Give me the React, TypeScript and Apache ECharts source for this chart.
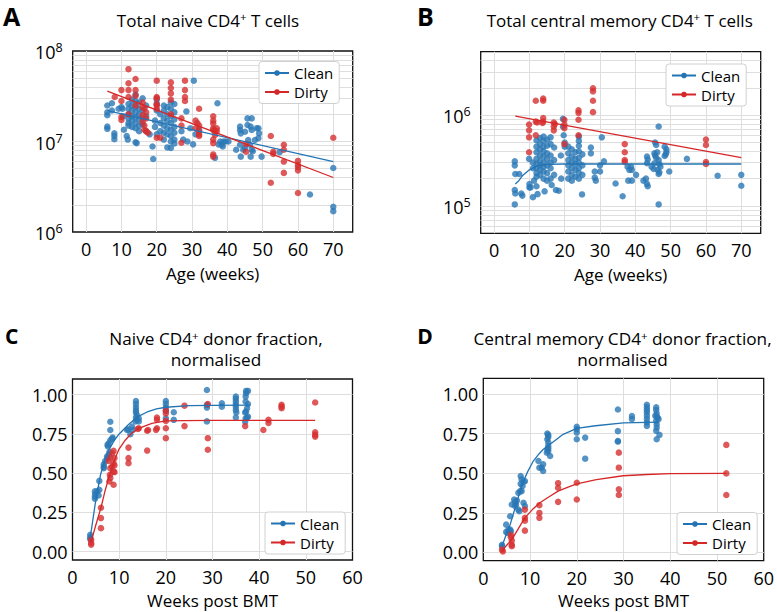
import React, { useEffect, useRef } from 'react';
import * as echarts from 'echarts';

const FONT = '"Open Sans", "Noto Sans", sans-serif';
const BLUE_PT = '#2a78b5';
const RED_PT = '#d62f31';
const BLUE_LINE = '#2274b4';
const RED_LINE = '#d62728';
const GRID = '#dedede';

// ---------- tick values ----------
const ageTicks = [0, 10, 20, 30, 40, 50, 60, 70];
const bmtLabels = [0, 10, 20, 30, 40, 50, 60];
const bmtSplits = [10, 20, 30, 40, 50];
const fracTicks = [0, 0.25, 0.5, 0.75, 1.0];
const naiveDecadeLabels = [1e6, 1e7, 1e8];
const naiveDecadeSplits = [1e7];
const cmDecades = [1e5, 1e6];
const naiveMinor = [2e6, 3e6, 4e6, 5e6, 6e6, 7e6, 8e6, 9e6, 2e7, 3e7, 4e7, 5e7, 6e7, 7e7, 8e7, 9e7];
const cmMinor = [6e4, 7e4, 8e4, 9e4, 2e5, 3e5, 4e5, 5e5, 6e5, 7e5, 8e5, 9e5, 2e6, 3e6, 4e6];

// ---------- Panel A: total naive CD4+ T cells ----------
const naiveCountClean = [
  [6, 2.5e7], [6, 2.1e7], [6, 1.95e7], [6, 1.46e7], [6, 1.38e7],
  [7.3, 2.65e7], [7.3, 2.2e7], [8, 1.23e7], [8, 1.15e7], [8, 1.06e7], [9.2, 2.3e7],
  [10, 2.4e7], [10.3, 2.3e7], [10.5, 1.9e7], [10.7, 1.35e7], [11.5, 1.15e7], [11.8, 1.05e7],
  [12, 2.6e7], [12, 2.3e7], [12, 2.0e7], [12, 1.8e7], [12, 1.6e7], [12, 1.5e7],
  [13, 2.9e7], [13, 2.5e7], [13, 2.2e7], [13, 1.9e7], [13, 1.7e7], [13, 1.45e7],
  [14, 3.3e7], [14, 2.8e7], [14, 2.4e7], [14, 2.1e7], [14, 1.85e7], [14, 1.6e7], [14, 1.4e7], [14, 9.8e6], [14.3, 9.6e6],
  [15, 2.7e7], [15, 2.3e7], [15, 2.0e7], [15, 1.75e7], [15, 1.5e7], [15, 1.3e7],
  [16, 3.0e7], [16, 2.2e7], [16, 1.8e7], [16, 1.55e7], [17, 2.5e7], [17, 1.9e7], [17, 1.3e7],
  [18, 1.2e7], [18.8, 8.8e6], [19, 6.4e6], [19.5, 1.7e7], [19.5, 1.45e7],
  [20, 2.9e7], [20, 2.6e7], [20, 2.2e7], [20, 1.2e7], [21, 2.0e7], [21, 1.6e7], [21, 1.3e7],
  [22, 2.5e7], [22, 2.2e7], [22, 1.8e7], [22, 1.5e7], [22, 1.25e7], [22, 1.05e7],
  [23, 2.4e7], [23, 2.0e7], [23, 1.7e7], [23, 1.4e7], [23, 1.2e7], [23, 8.6e6],
  [24, 2.7e7], [24, 2.3e7], [24, 1.9e7], [24, 1.6e7], [24, 1.35e7], [24, 1.15e7], [24, 1.0e7], [24, 8.5e6],
  [25, 2.6e7], [25, 2.1e7], [25, 1.75e7], [25, 1.45e7], [25, 1.25e7], [25, 1.05e7], [25, 9.5e6],
  [27, 1.3e7], [27.5, 1.05e7], [28.4, 2.15e7], [28.7, 1.0e7], [29.5, 1.4e7], [30.3, 9.3e6], [30.5, 4.7e7],
  [31, 1.2e7], [32, 1.35e7], [37.2, 2.65e7], [36.5, 6.6e6],
  [37.5, 9.3e6], [38, 1.0e7], [38.4, 9.2e6], [38.9, 1.0e7], [39.5, 1.0e7], [38.7, 8.8e6], [40.3, 1.0e7],
  [42.5, 8.1e6], [43.6, 9.2e6], [43.8, 6.8e6], [44.5, 8.1e6], [45, 8.5e6],
  [43.6, 1.46e7], [43.6, 1.34e7], [43.8, 1.23e7], [45, 1.28e7], [45.7, 1.8e7], [46.9, 1.8e7], [45.7, 1.52e7],
  [46.6, 1.46e7], [46.9, 1.34e7], [48.3, 1.4e7], [48.8, 1.4e7], [49, 1.23e7], [48.8, 1.09e7], [47.8, 1.04e7],
  [45.9, 1.04e7], [46.4, 9.2e6], [46.9, 8.1e6], [46.6, 6.8e6], [47.2, 7.8e6], [49.7, 6.8e6],
  [54.8, 7.6e6], [63.4, 2.6e6], [70, 5.1e6], [70, 1.9e6], [70, 1.7e6],
];
const naiveCountDirty = [
  [8.1, 3.1e7], [10, 3.7e7], [10, 2.8e7], [10, 1.87e7], [10, 1.73e7],
  [12, 6.3e7], [12, 4.4e7], [12, 3.7e7], [12, 3.1e7], [12, 2.0e7],
  [14, 4.9e7], [14, 3.7e7], [14, 3.2e7], [14, 2.5e7],
  [16, 2.7e7], [16, 2.4e7], [16.5, 2.3e7], [17, 2.1e7], [16, 1.95e7], [17, 1.8e7], [16, 1.65e7], [16.5, 1.5e7], [16.5, 1.35e7], [17, 1.3e7], [17.5, 1.25e7],
  [20, 4.7e7], [20, 3.1e7], [20, 3.0e7], [20, 2.6e7], [20, 2.5e7], [20, 2.3e7], [20, 1.1e7], [21, 1.1e7],
  [24, 4.5e7], [24, 3.9e7], [24, 3.4e7], [24, 2.9e7], [24, 2.0e7],
  [27, 9.7e6], [27, 1.5e7], [27, 1.8e7], [28, 4.7e7], [28, 3.7e7], [28, 3.1e7], [28, 2.8e7],
  [31, 1.7e7], [31.5, 1.6e7], [31, 1.4e7], [32, 1.5e7], [32, 1.3e7], [32, 1.2e7], [32, 1.15e7], [32, 2.3e7],
  [36, 1.9e7], [36, 1.7e7], [36, 1.58e7], [36, 1.4e7], [36, 1.34e7], [36.5, 1.3e7], [36.5, 1.18e7], [36, 1.05e7], [36, 9.6e6], [36, 7.2e6], [36, 6.8e6],
  [37, 1.4e7], [37, 1.3e7], [45.3, 9.4e6], [45.3, 7.7e6],
  [52.3, 1.15e7], [53, 7.7e6], [53, 7.3e6], [52.3, 3.5e6],
  [56, 9.2e6], [56, 8.1e6], [56, 6.0e6], [56, 4.5e6],
  [60, 6.1e6], [60, 5.5e6], [60, 5.2e6], [60, 4.8e6], [60, 2.7e6], [70, 1.1e7],
];
const naiveCountFitClean = [[6, 2.2e7], [70, 6.0e6]];
const naiveCountFitDirty = [[6, 3.6e7], [70, 4.0e6]];

// ---------- Panel B: total central memory CD4+ T cells ----------
const cmCountClean = [
  [5.85, 3.1e5], [5.85, 2.8e5], [6, 2.25e5], [5.85, 1.5e5], [6, 1.37e5], [5.85, 1.04e5],
  [7.1, 2.25e5], [7.7, 1.37e5], [8, 1.3e5], [9.9, 3.3e5], [10, 1.74e5], [10, 1.6e5], [10.3, 1.6e5], [11, 1.25e5],
  [11, 3.0e5], [11, 2.6e5], [11.3, 1.9e5],
  [12, 5.3e5], [12, 4.5e5], [12, 3.9e5], [12, 3.3e5], [12, 2.9e5], [12, 2.6e5], [12, 2.3e5], [12, 2.1e5], [12, 1.65e5], [12.3, 1.35e5],
  [13, 5.6e5], [13, 4.8e5], [13, 4.2e5], [13, 3.6e5], [13, 3.1e5], [13, 2.8e5], [13, 2.5e5], [13, 2.2e5],
  [14, 5.8e5], [14, 5.2e5], [14, 4.5e5], [14, 4.0e5], [14, 3.5e5], [14, 3.0e5], [14, 2.7e5], [14, 2.4e5], [14, 2.0e5], [14.3, 1.45e5],
  [15, 5.4e5], [15, 4.6e5], [15, 3.8e5], [15, 3.3e5], [15, 2.8e5], [15, 2.3e5], [15, 1.9e5],
  [16, 5.7e5], [16, 4.8e5], [16, 3.6e5], [16, 3.0e5], [16, 2.6e5], [16, 2.0e5], [16.3, 1.7e5],
  [17, 4.4e5], [17, 3.2e5], [17, 2.2e5], [17.5, 1.5e5],
  [18.3, 1.47e5], [18.9, 3.6e5], [19, 2.0e5], [19.5, 9.1e5], [19.5, 7.5e5], [19.7, 6.0e5], [20, 5.0e5], [20, 4.5e5],
  [21, 4.5e5], [21, 3.8e5], [21, 3.2e5], [21, 2.8e5], [21, 2.4e5], [21, 2.0e5],
  [22, 4.2e5], [22, 3.5e5], [22, 3.0e5], [22, 2.6e5], [22, 2.2e5], [22, 1.9e5],
  [23, 3.9e5], [23, 3.3e5], [23, 2.9e5], [23, 2.5e5], [23, 2.1e5],
  [24, 5.8e5], [24, 5.2e5], [24, 4.6e5], [24, 4.0e5], [24, 3.4e5], [24, 3.0e5], [24, 2.6e5], [24, 2.3e5], [24, 2.0e5],
  [25, 3.7e5], [25, 2.8e5], [25, 2.2e5], [24.9, 1.34e5],
  [27.4, 4.4e5], [27.4, 3.8e5], [28.5, 2.4e5], [28.5, 2.05e5], [28.8, 1.9e5], [30.5, 5.7e5], [31.1, 3.1e5], [30, 2.8e5], [30, 2.4e5], [34.4, 1.77e5],
  [36.4, 1.28e5], [37.8, 2.7e5], [38.3, 2.5e5], [38.8, 2.7e5], [39, 2.5e5], [38, 1.9e5], [39, 1.9e5], [40.2, 2.2e5],
  [42.3, 1.9e5], [43, 2.0e5], [43.3, 1.75e5], [43.5, 1.65e5],
  [43.3, 3.5e5], [43.5, 3.25e5], [43.3, 2.95e5], [44.6, 2.7e5], [45.4, 2.95e5], [45.4, 3.8e5], [45.6, 3.6e5], [45.9, 3.4e5],
  [46.2, 3.9e5], [46.6, 3.2e5], [46.8, 2.9e5], [47.1, 2.7e5], [46.3, 2.5e5], [46.8, 2.35e5], [46.6, 2.25e5], [45.2, 2.55e5],
  [46.6, 7.5e5], [45.6, 5.0e5], [45.9, 4.7e5],
  [48.3, 4.5e5], [48.8, 4.2e5], [48.8, 3.9e5], [48.3, 3.55e5], [48.6, 3.7e5],
  [49.6, 2.4e5], [46.6, 1.04e5], [54.6, 3.3e5], [63.3, 2.15e5], [70, 2.2e5], [70, 1.67e5],
];
const cmCountDirty = [
  [9.9, 7.9e5], [9.9, 6.8e5], [9.9, 5.7e5], [9.9, 3.9e5],
  [11.8, 1.44e6], [13.9, 1.52e6], [13.9, 1.44e6], [11.8, 8.5e5], [12.2, 8.3e5], [11.8, 6.0e5],
  [13.9, 9.3e5], [13.9, 8.5e5], [13.7, 8.2e5],
  [16.9, 8.3e5], [16.9, 7.5e5], [16.9, 6.8e5], [17.2, 8.0e5],
  [19.9, 8.9e5], [19.9, 7.9e5], [19.9, 7.2e5], [19.9, 4.8e5],
  [23.9, 1.13e6], [23.9, 1.06e6], [23.9, 8.9e5], [23.9, 6.0e5],
  [28, 1.98e6], [28, 1.83e6], [28, 1.44e6], [28, 1.08e6],
  [37, 4.8e5], [37, 3.9e5], [37, 3.2e5], [37, 3.05e5],
  [60, 5.4e5], [60, 4.7e5], [60, 3.05e5], [60, 2.9e5],
];
const cmCountFitClean = [[6, 1.75e5], [7, 1.9e5], [8, 2.15e5], [10, 2.5e5], [12, 2.75e5], [15, 2.87e5], [20, 2.9e5], [70, 2.9e5]];
const cmCountFitDirty = [[6, 9.75e5], [70, 3.4e5]];

// ---------- Panel C: naive donor fraction ----------
const naiveFracClean = [
  [3.8, 0.108], [3.8, 0.091], [3.8, 0.08],
  [4.8, 0.384], [4.9, 0.367], [4.8, 0.352], [5.3, 0.384], [5.6, 0.358], [4.8, 0.337], [5.75, 0.394], [5.75, 0.451],
  [6.7, 0.542], [6.7, 0.557], [6.7, 0.532], [7.0, 0.578], [7.5, 0.595],
  [7.5, 0.68], [7.6, 0.67], [7.75, 0.69], [8.1, 0.71], [8.5, 0.72], [8.6, 0.727], [8.1, 0.828], [8.1, 0.775],
  [7.4, 0.606], [7.75, 0.617], [7.9, 0.634],
  [11.7, 0.775], [11.9, 0.78], [12.75, 0.797], [12.9, 0.775], [12.4, 0.748],
  [13.6, 0.96], [13.6, 0.94], [13.6, 0.918], [13.6, 0.9], [13.6, 0.886], [13.8, 0.87], [13.6, 0.854], [13.8, 0.84], [14.2, 0.83], [14.2, 0.85], [13.5, 0.83],
  [20, 0.96], [20, 0.94], [20, 0.918], [20, 0.896], [20, 0.85], [21.7, 0.888], [21.7, 0.84],
  [28.8, 1.03], [28.8, 0.918], [28.8, 0.83], [28.8, 0.935], [32, 0.945], [32, 0.924],
  [35, 0.988], [35, 0.973], [35, 0.956], [35, 0.939], [35, 0.924], [35, 0.903], [35, 0.854], [35.1, 0.887],
  [37, 0.887], [37, 0.828], [37.2, 1.024], [37.6, 1.024], [37.2, 1.01], [37.1, 0.988], [37.6, 0.94], [37.1, 0.956],
  [37.4, 0.914], [37.2, 0.893], [37.6, 0.86], [37.4, 0.854], [37.1, 0.85],
];
const naiveFracDirty = [
  [4, 0.076], [4, 0.055], [4, 0.045], [6.1, 0.28], [6.1, 0.214], [6.1, 0.15],
  [8, 0.49], [8.1, 0.47], [8.1, 0.532], [8.5, 0.543], [8.8, 0.564], [7.9, 0.447], [8.8, 0.426],
  [7.75, 0.578], [8.1, 0.6], [8.5, 0.627], [8.8, 0.642], [9, 0.596], [9, 0.55], [8.8, 0.51], [9, 0.507],
  [12, 0.663], [12, 0.596], [12, 0.564], [14, 0.782], [14.2, 0.786], [16, 0.77], [16.2, 0.775], [16, 0.644],
  [18.1, 0.854], [18.1, 0.84], [18.1, 0.786], [17.9, 0.776],
  [20, 0.9], [20, 0.88], [20, 0.833], [20, 0.723], [20, 0.786], [24, 0.93], [24, 0.8],
  [29, 0.94], [29, 0.723], [29, 0.649], [37, 0.8], [40.9, 0.775], [42, 0.84], [42, 0.82],
  [44.8, 0.935], [44.8, 0.924], [44.8, 0.914], [52, 0.95], [52, 0.761], [52, 0.744], [52, 0.733],
];
const naiveFracFitClean = [
  [3.8, 0.09], [4.2, 0.17], [5, 0.33], [6, 0.49], [7, 0.59], [8, 0.66], [9, 0.71], [10, 0.75],
  [12, 0.81], [14, 0.86], [16, 0.89], [18, 0.91], [20, 0.92], [25, 0.93], [30, 0.932], [38, 0.933],
];
const naiveFracFitDirty = [
  [4, 0.066], [5, 0.17], [6.1, 0.28], [7, 0.39], [7.75, 0.47], [8.8, 0.57], [9.9, 0.65], [11.3, 0.71],
  [12.5, 0.75], [14.2, 0.786], [17, 0.818], [20, 0.833], [24, 0.835], [30, 0.836], [52, 0.836],
];

// ---------- Panel D: central memory donor fraction ----------
const cmFracClean = [
  [4, 0.048], [4, 0.038], [4.9, 0.175], [4.9, 0.129], [5.2, 0.122], [5.4, 0.144],
  [5.75, 0.144], [5.9, 0.133], [5.75, 0.228], [6.1, 0.302], [6.6, 0.334],
  [6.8, 0.319], [6.8, 0.292], [7.2, 0.327], [7, 0.302], [7.5, 0.27], [7.7, 0.26], [7.5, 0.376], [7.9, 0.387],
  [8, 0.482], [8.2, 0.461], [8, 0.433], [8.4, 0.419], [8.6, 0.446], [8.9, 0.45], [8.2, 0.387], [8.6, 0.313], [8.9, 0.292],
  [11.8, 0.577], [12, 0.535], [12.5, 0.535], [12.8, 0.514], [12.8, 0.556],
  [13.7, 0.751], [13.9, 0.742], [13.9, 0.729], [13.7, 0.715], [13.9, 0.694], [13.9, 0.672], [13.9, 0.657], [13.9, 0.64], [14.3, 0.609], [13.7, 0.651], [13.6, 0.63],
  [20, 0.793], [20, 0.778], [20, 0.757], [20, 0.715], [21.8, 0.725], [21.8, 0.592],
  [28.8, 0.903], [28.8, 0.766], [28.8, 0.704], [28.8, 0.7], [31.8, 0.862], [31.8, 0.842],
  [35, 0.933], [35, 0.916], [35, 0.899], [35, 0.884], [35, 0.863], [35, 0.842], [35, 0.82], [35, 0.799],
  [37, 0.916], [37, 0.899], [37.1, 0.877], [37.1, 0.856], [37.3, 0.852], [37.5, 0.842], [37, 0.831], [37.1, 0.81],
  [37.1, 0.789], [37, 0.768], [37.7, 0.742], [37.1, 0.715], [36.8, 0.863],
];
const cmFracDirty = [
  [4, 0.017], [4.2, 0.006], [5.9, 0.095], [6.1, 0.074], [6.1, 0.038], [6.1, 0.048], [5.9, 0.11],
  [8.9, 0.27], [8.9, 0.218], [8.9, 0.2], [8.9, 0.137], [12, 0.298], [12, 0.249], [12, 0.218],
  [16, 0.437], [16, 0.408], [16, 0.319], [20, 0.44], [20, 0.334],
  [29, 0.63], [29, 0.535], [29, 0.398], [29, 0.362], [52, 0.679], [52, 0.499], [52, 0.362],
];
const cmFracFitClean = [
  [4, 0.038], [5, 0.12], [5.75, 0.175], [6.5, 0.25], [7.2, 0.32], [8, 0.4], [8.6, 0.45], [9.5, 0.51],
  [10.7, 0.577], [12, 0.625], [12.8, 0.65], [14.3, 0.683], [17.1, 0.746], [20, 0.784], [24, 0.8], [30, 0.818], [37.5, 0.823],
];
const cmFracFitDirty = [
  [4, 0.006], [5, 0.045], [6.1, 0.08], [7.5, 0.15], [8.9, 0.218], [10.5, 0.27], [12.1, 0.313], [14, 0.35],
  [16, 0.387], [18, 0.41], [20, 0.433], [24.2, 0.46], [29.9, 0.484], [35, 0.492], [40, 0.497], [52, 0.499],
];

const superFmt = (v: number) => `{b|10}{s|${Math.round(Math.log10(v))}}`;

const panels = [
  {
    rect: { left: 72.7, top: 51, width: 280, height: 181 },
    xMin: -3.8, xMax: 75.5, xLabels: ageTicks, xSplits: ageTicks, xName: 'Age (weeks)', nameGap: 33,
    yType: 'log', yMin: 1e6, yMax: 1e8, yLabels: naiveDecadeLabels, ySplits: naiveDecadeSplits, yMinor: naiveMinor,
    clean: naiveCountClean, dirty: naiveCountDirty, fitClean: naiveCountFitClean, fitDirty: naiveCountFitDirty,
    legend: { left: 259, top: 61.5 },
  },
  {
    rect: { left: 480.7, top: 51.7, width: 280, height: 181.6 },
    xMin: -3.8, xMax: 75.5, xLabels: ageTicks, xSplits: ageTicks, xName: 'Age (weeks)', nameGap: 33,
    yType: 'log', yMin: 5e4, yMax: 5e6, yLabels: cmDecades, ySplits: cmDecades, yMinor: cmMinor,
    clean: cmCountClean, dirty: cmCountDirty, fitClean: cmCountFitClean, fitDirty: cmCountFitDirty,
    legend: { left: 666, top: 64 },
  },
  {
    rect: { left: 72.5, top: 379, width: 280, height: 181 },
    xMin: 0, xMax: 60, xLabels: bmtLabels, xSplits: bmtSplits, xName: 'Weeks post BMT', nameGap: 32,
    yType: 'value', yMin: -0.053, yMax: 1.1, yLabels: fracTicks, ySplits: fracTicks, yMinor: null,
    clean: naiveFracClean, dirty: naiveFracDirty, fitClean: naiveFracFitClean, fitDirty: naiveFracFitDirty,
    legend: { left: 265, top: 512 },
  },
  {
    rect: { left: 483.3, top: 378.3, width: 281.7, height: 182.4 },
    xMin: 0, xMax: 60, xLabels: bmtLabels, xSplits: bmtSplits, xName: 'Weeks post BMT', nameGap: 31,
    yType: 'value', yMin: -0.053, yMax: 1.1, yLabels: fracTicks, ySplits: fracTicks, yMinor: null,
    clean: cmFracClean, dirty: cmFracDirty, fitClean: cmFracFitClean, fitDirty: cmFracFitDirty,
    legend: { left: 677, top: 512.5 },
  },
];

const titles = [
  { text: 'Total naive CD4{s|+} T cells', x: 208, y: 20, size: 17 },
  { text: 'Total central memory CD4{s|+} T cells', x: 619.7, y: 20, size: 17 },
  { text: 'Naive CD4{s|+} donor fraction,', x: 216, y: 338.5, size: 17.2 },
  { text: 'normalised', x: 216, y: 359.5, size: 17.2 },
  { text: 'Central memory CD4{s|+} donor fraction,', x: 622.5, y: 338.5, size: 17.2 },
  { text: 'normalised', x: 622.5, y: 359.5, size: 17.2 },
];
const letters = [
  { text: 'A', x: 11.7, y: 16, size: 25 },
  { text: 'B', x: 425.5, y: 16, size: 25 },
  { text: 'C', x: 11.7, y: 336, size: 21 },
  { text: 'D', x: 425, y: 336, size: 21 },
];

function buildOption() {
  const tickStyle = { fontSize: 18, color: '#000', fontFamily: FONT };
  return {
    animation: false,
    backgroundColor: '#ffffff',
    textStyle: { fontFamily: FONT },
    grid: panels.map((p) => ({
      ...p.rect, show: true, borderColor: '#111', borderWidth: 1.3, backgroundColor: 'transparent', containLabel: false,
    })),
    xAxis: panels.map((p, i) => ({
      type: 'value', gridIndex: i, min: p.xMin, max: p.xMax,
      name: p.xName, nameLocation: 'middle', nameGap: p.nameGap,
      nameTextStyle: { fontSize: 17, color: '#000', fontFamily: FONT, lineHeight: 17 },
      axisLine: { show: false },
      axisTick: { show: false, customValues: p.xSplits },
      axisLabel: { customValues: p.xLabels, margin: 8, lineHeight: 18, ...tickStyle },
      splitLine: { show: true, lineStyle: { color: GRID, width: 1 } },
    })),
    yAxis: panels.map((p, i) => ({
      type: p.yType, gridIndex: i, min: p.yMin, max: p.yMax,
      ...(p.yType === 'log' ? { logBase: 10 } : {}),
      axisLine: { show: false },
      axisTick: { show: false, customValues: p.ySplits },
      axisLabel: p.yType === 'log'
        ? {
            customValues: p.yLabels, margin: 10, formatter: superFmt,
            rich: {
              b: { fontSize: 18, color: '#000', fontFamily: FONT, lineHeight: 20, verticalAlign: 'bottom' },
              s: { fontSize: 12.5, color: '#000', fontFamily: FONT, lineHeight: 20, verticalAlign: 'top' },
            },
          }
        : { customValues: p.yLabels, margin: 5, formatter: (v: number) => v.toFixed(2), ...tickStyle },
      splitLine: { show: true, lineStyle: { color: GRID, width: 1 } },
    })),
    legend: panels.map((p) => ({
      data: ['Clean', 'Dirty'], orient: 'vertical', left: p.legend.left, top: p.legend.top,
      backgroundColor: '#fff', borderColor: '#d0d0d0', borderWidth: 1, borderRadius: 3,
      padding: [4, 6, 4, 5], itemWidth: 24, itemHeight: 7, itemGap: 4, selectedMode: false,
      textStyle: { fontSize: 15, color: '#000', fontFamily: FONT, lineHeight: 15 },
    })),
    graphic: [
      ...titles.map((t) => ({
        type: 'text', x: t.x, y: t.y, silent: true,
        style: {
          text: t.text, align: 'center', verticalAlign: 'middle', fill: '#000',
          fontSize: t.size, fontFamily: FONT, lineHeight: 19,
          rich: { s: { fontSize: 11.5, fontFamily: FONT, fill: '#000', lineHeight: 19, verticalAlign: 'top' } },
        },
      })),
      ...letters.map((l) => ({
        type: 'text', x: l.x, y: l.y, silent: true,
        style: {
          text: l.text, align: 'center', verticalAlign: 'middle', fill: '#000',
          fontSize: l.size, fontWeight: 'bold', fontFamily: FONT, lineHeight: l.size * 0.9,
        },
      })),
    ],
    series: panels.flatMap((p, i) => [
      {
        type: 'scatter', name: 'Clean data', xAxisIndex: i, yAxisIndex: i, data: p.clean,
        symbolSize: 6.5, itemStyle: { color: BLUE_PT, opacity: 0.8 }, z: 2, silent: true,
        markLine: p.yMinor
          ? {
              silent: true, symbol: ['none', 'none'], label: { show: false }, z: 1,
              lineStyle: { color: GRID, width: 1, type: 'solid' }, emphasis: { disabled: true },
              data: p.yMinor.map((v) => ({ yAxis: v })), animation: false,
            }
          : undefined,
      },
      {
        type: 'scatter', name: 'Dirty data', xAxisIndex: i, yAxisIndex: i, data: p.dirty,
        symbolSize: 6.5, itemStyle: { color: RED_PT, opacity: 0.8 }, z: 2, silent: true,
      },
      {
        type: 'line', name: 'Clean', xAxisIndex: i, yAxisIndex: i, data: p.fitClean,
        showSymbol: false, symbol: 'circle', lineStyle: { color: BLUE_LINE, width: 1.3 },
        itemStyle: { color: BLUE_LINE }, z: 3, silent: true,
      },
      {
        type: 'line', name: 'Dirty', xAxisIndex: i, yAxisIndex: i, data: p.fitDirty,
        showSymbol: false, symbol: 'circle', lineStyle: { color: RED_LINE, width: 1.3 },
        itemStyle: { color: RED_LINE }, z: 3, silent: true,
      },
    ]),
  };
}

export default function App() {
  const ref = useRef<HTMLDivElement>(null);
  useEffect(() => {
    if (!ref.current) return;
    const chart = echarts.init(ref.current, undefined, { renderer: 'svg' });
    chart.setOption(buildOption() as any);
    return () => chart.dispose();
  }, []);
  return (
    <div
      ref={ref}
      style={{ position: 'fixed', left: 0, top: 0, width: 777, height: 612, background: '#fff' }}
    />
  );
}
